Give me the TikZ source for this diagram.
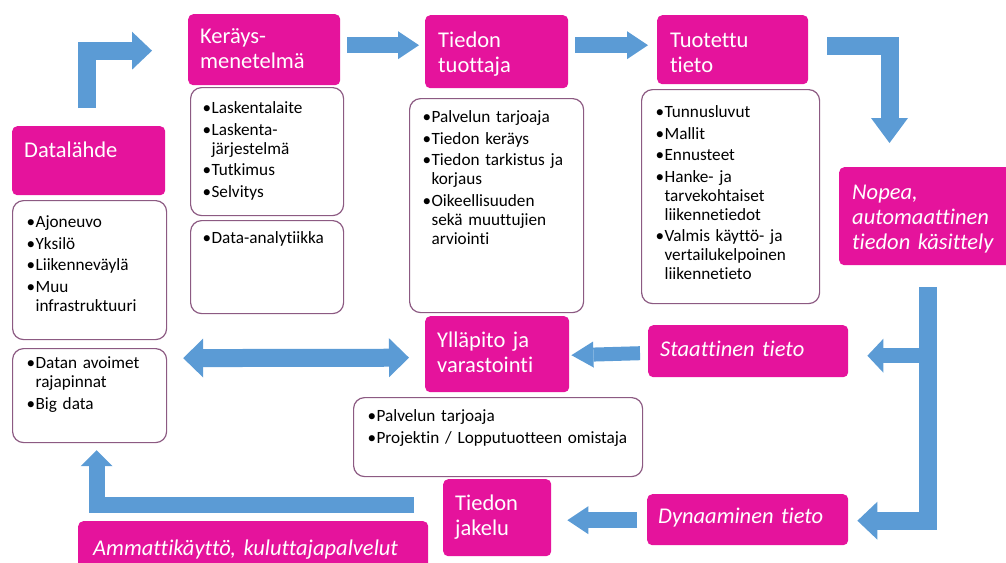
\documentclass[tikz,border=0pt]{standalone}
\usepackage{fontspec}
\setmainfont{Carlito}[Ligatures=NoCommon]
\usepackage{tikz}
\usetikzlibrary{arrows.meta}

\definecolor{boxpink}{RGB}{229,19,156}
\definecolor{arrowblue}{RGB}{91,155,213}
\definecolor{boxline}{RGB}{140,90,130}

\newcommand{\blt}{\makebox[9pt][l]{\textbullet}}
\newcommand{\bcont}{\hspace*{9pt}}

\begin{document}
\begin{tikzpicture}[x=1pt, y=-1pt,
    pinkbox/.style={fill=boxpink, text=white, rounded corners=5pt, anchor=north west, inner ysep=0pt, align=left, font=\fontsize{22.5}{25}\selectfont},
    pinkit/.style={pinkbox, font=\fontsize{22.5}{25}\selectfont\itshape},
    listbox/.style={draw=boxline, line width=1.2pt, fill=white, rounded corners=11pt, anchor=north west, inner ysep=0pt, align=left, font=\fontsize{17.2}{19}\selectfont},
    flow/.style={draw=arrowblue, line width=18pt, -{Triangle[length=20pt,width=38pt,line width=0pt]}},
    flowsm/.style={draw=arrowblue, line width=16pt, -{Triangle[length=21pt,width=28pt,line width=0pt]}}]

        % Fix the frame
        \useasboundingbox (0,0) rectangle (1006,562);
        \clip (0,0) rectangle (1006,562);

        % Pink title boxes
        \node[pinkbox, inner xsep=12pt, text width=129pt, text height=31pt, text depth=38pt] (datalahde) at (12,126) {Datalähde};
        \node[pinkbox, inner xsep=12pt, text width=128pt, text height=29pt, text depth=42pt] (kerays) at (188,14) {Keräys-\\menetelmä};
        \node[pinkbox, inner xsep=13pt, text width=117pt, text height=32pt, text depth=41pt] (tuottaja) at (425,15) {Tiedon\\tuottaja};
        \node[pinkbox, inner xsep=13pt, text width=125pt, text height=32pt, text depth=37pt] (tuotettu) at (657,15) {Tuotettu\\tieto};
        \node[pinkit, inner xsep=13pt, text width=154pt, text height=32pt, text depth=66pt] (nopea) at (839,167) {Nopea,\\automaattinen\\tiedon käsittely};
        \node[pinkbox, inner xsep=12pt, text width=120pt, text height=31pt, text depth=45pt] (yllapito) at (425,316) {Ylläpito ja\\varastointi};
        \node[pinkit, inner xsep=12pt, text width=176pt, text height=31pt, text depth=21pt] (staattinen) at (648,325) {Staattinen tieto};
        \node[pinkbox, inner xsep=12pt, text width=84pt, text height=31pt, text depth=46pt] (jakelu) at (443,479) {Tiedon\\jakelu};
        \node[pinkit, inner xsep=11pt, text width=179pt, text height=29pt, text depth=22pt] (dynaaminen) at (647,494) {Dynaaminen tieto};
        \node[pinkit, inner xsep=15pt, text width=320pt, text height=34pt, text depth=26pt] (ammatti) at (78,521) {Ammattikäyttö, kuluttajapalvelut};

        % White lists under the titles
        \node[listbox, inner xsep=14pt, text width=126pt, text height=27pt, text depth=112pt] (lahdelist) at (12,200)
            {\blt Ajoneuvo\\[2.5pt]\blt Yksilö\\[2.5pt]\blt Liikenneväylä\\[2.5pt]\blt Muu\\\bcont infrastruktuuri};
        \node[listbox, inner xsep=14pt, text width=126pt, text height=20pt, text depth=74pt] (datanlist) at (12,348)
            {\blt Datan avoimet\\\bcont rajapinnat\\[2.5pt]\blt Big data};
        \node[listbox, inner xsep=12pt, text width=129pt, text height=26pt, text depth=102pt] (keraylist) at (190,87)
            {\blt Laskentalaite\\[2.5pt]\blt Laskenta-\\\bcont järjestelmä\\[2.5pt]\blt Tutkimus\\[2.5pt]\blt Selvitys};
        \node[listbox, inner xsep=12pt, text width=129pt, text height=23pt, text depth=70pt] (analyysi) at (190,220)
            {\blt Data-analytiikka};
        \node[listbox, inner xsep=13pt, text width=148pt, text height=24pt, text depth=190pt] (tuottajalist) at (409,98)
            {\blt Palvelun tarjoaja\\[2.5pt]\blt Tiedon keräys\\[2.5pt]\blt Tiedon tarkistus ja\\\bcont korjaus\\[2.5pt]\blt Oikeellisuuden\\\bcont sekä muuttujien\\\bcont arviointi};
        \node[listbox, inner xsep=14pt, text width=150pt, text height=28pt, text depth=186pt] (tuotettulist) at (641,89)
            {\blt Tunnusluvut\\[2.5pt]\blt Mallit\\[2.5pt]\blt Ennusteet\\[2.5pt]\blt Hanke- ja\\\bcont tarvekohtaiset\\\bcont liikennetiedot\\[2.5pt]\blt Valmis käyttö- ja\\\bcont vertailukelpoinen\\\bcont liikennetieto};
        \node[listbox, inner xsep=14pt, text width=261pt, text height=24pt, text depth=55pt] (yllapitolist) at (353,397)
            {\blt Palvelun tarjoaja\\[2.5pt]\blt Projektin / Lopputuotteen omistaja};

        % Arrows along the top
        \draw[flow] ([xshift=-2pt,yshift=18pt]datalahde.north) |- ([xshift=-36pt,yshift=-1pt]kerays.west);
        \draw[flowsm] ([xshift=7pt,yshift=4.5pt]kerays.east) -- ([xshift=-6pt,yshift=6.5pt]tuottaja.west);
        \draw[flowsm] ([xshift=7pt,yshift=6.5pt]tuottaja.east) -- ([xshift=-9pt,yshift=4.5pt]tuotettu.west);
        \draw[flow, -{Triangle[length=25pt,width=37pt,line width=0pt]}] ([xshift=19pt,yshift=4pt]tuotettu.east) -| ([xshift=50.5pt,yshift=24pt]nopea.north west);

        % Split into static and dynamic data
        \coordinate (spinetop) at ([xshift=88.5pt,yshift=-22pt]nopea.south west);
        \coordinate (stattip) at ([xshift=19pt,yshift=-4.5pt]staattinen.east);
        \draw[flow] (spinetop) |- ([xshift=9pt,yshift=-1pt]dynaaminen.east);
        \draw[flow, line width=15pt, -{Triangle[length=16pt,width=34pt,line width=0pt]}] (spinetop |- stattip) -- (stattip);

        % Arrows back to the left
        \draw[flowsm, line width=14pt, -{Triangle[length=22pt,width=26pt,line width=0pt]}] ([xshift=-8pt,yshift=-2pt]staattinen.west) -- ([xshift=2pt,yshift=-1pt]yllapito.east);
        \draw[flowsm] ([xshift=-10pt,yshift=-0.5pt]dynaaminen.west) -- ([xshift=16pt,yshift=-2.5pt]jakelu.east);
        \draw[flowsm, -{Triangle[length=16pt,width=32pt,line width=0pt]}] ([xshift=-29pt,yshift=12.5pt]jakelu.west) -| ([xshift=7pt,yshift=-7pt]datanlist.south);
        \draw[flow, {Triangle[length=20pt,width=39pt,line width=0pt]}-{Triangle[length=20pt,width=39pt,line width=0pt]}] ([xshift=16pt,yshift=37.5pt]datanlist.east) -- ([xshift=-16pt,yshift=-3.5pt]yllapito.west);

\end{tikzpicture}
\end{document}
